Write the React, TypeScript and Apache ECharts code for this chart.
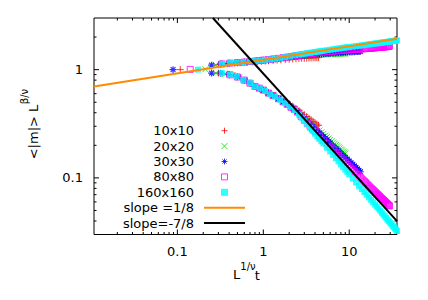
import React, { useEffect, useRef } from 'react';
import * as echarts from 'echarts';

const FONT = '"DejaVu Sans", "Liberation Sans", sans-serif';

const seriesNames = ['10x10', '20x20', '30x30', '80x80', '160x160', 'slope =1/8', 'slope=-7/8'];
const xTickLabels = ['0.1', '1', '10'];
const yTickLabels = ['0.1', '1'];
const xMinorTicks = [0.02, 0.03, 0.04, 0.05, 0.06, 0.07, 0.08, 0.09, 0.2, 0.3, 0.4, 0.5, 0.6, 0.7, 0.8, 0.9, 2, 3, 4, 5, 6, 7, 8, 9, 20, 30];
const yMinorTicks = [0.04, 0.05, 0.06, 0.07, 0.08, 0.09, 0.2, 0.3, 0.4, 0.5, 0.6, 0.7, 0.8, 0.9, 2];

// L = 10
const redFirst = [[0.108, 1.0]];
const redX = [0.3, 0.38, 0.46, 0.55, 0.65, 0.75, 0.85, 0.95, 1.05, 1.15, 1.3, 1.45, 1.6, 1.8, 2.0, 2.2, 2.4, 2.6, 2.8, 3.0, 3.2, 3.4, 3.6, 3.8, 4.0, 4.2, 4.4];
const redUp = [1.11, 1.135, 1.15, 1.16, 1.17, 1.18, 1.19, 1.195, 1.2, 1.207, 1.217, 1.226, 1.234, 1.242, 1.25, 1.256, 1.262, 1.267, 1.271, 1.275, 1.278, 1.281, 1.284, 1.286, 1.288, 1.29, 1.292];
const redLow = [0.93, 0.91, 0.875, 0.83, 0.775, 0.725, 0.69, 0.66, 0.633, 0.607, 0.577, 0.55, 0.528, 0.505, 0.483, 0.46, 0.437, 0.417, 0.399, 0.383, 0.369, 0.356, 0.344, 0.333, 0.323, 0.314, 0.306];

// L = 20
const greenFirst = [[0.212, 1.01]];
const greenX = [0.28, 0.36, 0.44, 0.52, 0.6, 0.7, 0.8, 0.9, 1.0, 1.15, 1.3, 1.5, 1.7, 1.9, 2.1, 2.3, 2.5, 2.75, 3.0, 3.25, 3.5, 3.75, 4.0, 4.25, 4.5, 4.75, 5.0, 5.25, 5.5, 5.75, 6.0, 6.25, 6.5, 6.75, 7.0, 7.25, 7.5, 7.75, 8.0, 8.25, 8.5, 8.75, 9.0];
const greenUp = [1.105, 1.135, 1.152, 1.162, 1.172, 1.185, 1.195, 1.203, 1.21, 1.225, 1.24, 1.258, 1.273, 1.287, 1.298, 1.308, 1.318, 1.328, 1.337, 1.344, 1.35, 1.355, 1.36, 1.365, 1.37, 1.374, 1.377, 1.38, 1.383, 1.386, 1.389, 1.391, 1.393, 1.395, 1.397, 1.399, 1.401, 1.402, 1.404, 1.405, 1.407, 1.408, 1.41];
const greenLow = [0.93, 0.915, 0.885, 0.845, 0.8, 0.75, 0.7, 0.67, 0.645, 0.607, 0.577, 0.54, 0.505, 0.478, 0.452, 0.43, 0.41, 0.385, 0.362, 0.343, 0.326, 0.31, 0.297, 0.285, 0.274, 0.2635, 0.255, 0.2457, 0.238, 0.231, 0.224, 0.218, 0.212, 0.2063, 0.201, 0.1962, 0.192, 0.1874, 0.183, 0.1793, 0.175, 0.1717, 0.168];

// L = 30
const blueFirst = [[0.089, 1.0]];
const blueX = [0.25, 0.32, 0.4, 0.5, 0.6, 0.7, 0.8, 0.9, 1.0, 1.15, 1.3, 1.5, 1.7, 1.9, 2.1, 2.3, 2.5, 2.75, 3.0, 3.25, 3.5, 3.75, 4.0, 4.25, 4.5, 4.75, 5.0, 5.25, 5.5, 5.75, 6.0, 6.5, 7.0, 7.5, 8.0, 8.5, 9.0, 9.5, 10, 10.5, 11, 11.5, 12, 12.5, 13, 13.5];
const blueUp = [1.1, 1.125, 1.145, 1.16, 1.175, 1.19, 1.2, 1.213, 1.222, 1.237, 1.25, 1.27, 1.286, 1.3, 1.31, 1.32, 1.33, 1.343, 1.355, 1.364, 1.372, 1.379, 1.386, 1.392, 1.397, 1.402, 1.406, 1.41, 1.414, 1.418, 1.421, 1.427, 1.432, 1.437, 1.441, 1.445, 1.449, 1.452, 1.456, 1.459, 1.462, 1.465, 1.468, 1.471, 1.473, 1.476];
const blueLow = [0.93, 0.928, 0.9, 0.858, 0.8, 0.75, 0.7, 0.672, 0.645, 0.607, 0.577, 0.54, 0.505, 0.478, 0.45, 0.428, 0.408, 0.38, 0.355, 0.334, 0.315, 0.299, 0.285, 0.272, 0.261, 0.25, 0.241, 0.232, 0.224, 0.216, 0.209, 0.197, 0.186, 0.177, 0.168, 0.161, 0.155, 0.149, 0.143, 0.138, 0.133, 0.129, 0.1245, 0.121, 0.117, 0.114];

// L = 80
const magFirst = [[0.141, 1.005], [0.33, 1.13]];
const magX = [0.41, 0.5, 0.6, 0.7, 0.8, 0.9, 1.0, 1.15, 1.3, 1.5, 1.7, 1.9, 2.1, 2.3, 2.5, 2.75, 3.0, 3.25, 3.5, 3.75, 4.0, 4.5, 5.0, 5.5, 6.0, 6.5, 7.0, 7.5, 8.0, 8.5, 9.0, 9.5,
  10, 10.5, 11, 11.5, 12, 12.5, 13, 13.5, 14, 14.5, 15, 15.5, 16, 16.5, 17, 17.5, 18, 18.5, 19, 19.5, 20, 20.5, 21, 21.5, 22, 22.5, 23, 23.5, 24, 24.5, 25, 25.5, 26, 26.5, 27, 27.5, 28, 28.5, 29, 29.4];
const magUp = [1.15, 1.162, 1.175, 1.19, 1.2, 1.213, 1.225, 1.24, 1.255, 1.272, 1.29, 1.305, 1.322, 1.336, 1.349, 1.364, 1.378, 1.39, 1.4, 1.41, 1.42, 1.436, 1.45, 1.462, 1.472, 1.481, 1.489, 1.497, 1.503, 1.509, 1.514, 1.519,
  1.524, 1.529, 1.533, 1.537, 1.541, 1.545, 1.549, 1.553, 1.556, 1.56, 1.563, 1.566, 1.569, 1.572, 1.575, 1.578, 1.581, 1.584, 1.587, 1.59, 1.594, 1.597, 1.6, 1.603, 1.605, 1.608, 1.61, 1.613, 1.615, 1.618, 1.62, 1.623, 1.626, 1.629, 1.632, 1.635, 1.638, 1.641, 1.644, 1.647];
const magLow = [0.895, 0.855, 0.8, 0.75, 0.7, 0.675, 0.648, 0.607, 0.577, 0.54, 0.505, 0.478, 0.449, 0.429, 0.405, 0.37, 0.342, 0.32, 0.3, 0.284, 0.269, 0.243, 0.223, 0.207, 0.193, 0.181, 0.17, 0.161, 0.153, 0.146, 0.139, 0.133,
  0.128, 0.123, 0.1185, 0.1147, 0.111, 0.1075, 0.104, 0.101, 0.098, 0.0955, 0.093, 0.0905, 0.088, 0.086, 0.084, 0.082, 0.08, 0.0785, 0.077, 0.0755, 0.074, 0.0726, 0.0712, 0.07, 0.0687, 0.0675, 0.0663, 0.0652, 0.0642, 0.0632, 0.0622, 0.0613, 0.0604, 0.0595, 0.0586, 0.0578, 0.057, 0.0562, 0.0555, 0.0551];

// L = 160
const cyanFirst = [[0.174, 1.0]];
const cyanX = [0.33, 0.41, 0.49, 0.585, 0.7, 0.8, 0.92, 1.05, 1.2, 1.37, 1.56, 1.79, 2.05, 2.34, 2.6, 2.8, 3.0, 3.25, 3.5, 3.75, 4.0, 4.25, 4.5, 4.75, 5.0, 5.5, 6.0, 6.5, 7.0, 7.5, 8.0, 8.5, 9.0, 9.5, 10, 11, 12, 13, 14, 15, 16, 17, 18, 19, 20, 21, 22, 23, 24, 25, 26, 27, 28, 29, 30, 31, 32, 33, 34, 35, 36];
const cyanUp = [1.13, 1.15, 1.16, 1.173, 1.19, 1.2, 1.215, 1.23, 1.245, 1.262, 1.28, 1.305, 1.33, 1.36, 1.378, 1.391, 1.403, 1.417, 1.43, 1.442, 1.454, 1.465, 1.476, 1.486, 1.495, 1.511, 1.527, 1.542, 1.556, 1.568, 1.58, 1.591, 1.602, 1.612, 1.619, 1.635, 1.65, 1.663, 1.677, 1.689, 1.701, 1.712, 1.723, 1.733, 1.742, 1.751, 1.759, 1.769, 1.777, 1.786, 1.793, 1.801, 1.807, 1.815, 1.821, 1.829, 1.836, 1.841, 1.848, 1.855, 1.861];
const cyanLow = [0.929, 0.895, 0.863, 0.805, 0.75, 0.698, 0.672, 0.635, 0.593, 0.562, 0.526, 0.49, 0.455, 0.424, 0.385, 0.359, 0.335, 0.312, 0.29, 0.272, 0.256, 0.242, 0.229, 0.218, 0.2085, 0.19, 0.1755, 0.163, 0.1516, 0.142, 0.1334, 0.1258, 0.1194, 0.1136, 0.1077, 0.0988, 0.091, 0.0845, 0.079, 0.0741, 0.0699, 0.0661, 0.0627, 0.0596, 0.0567, 0.0542, 0.0519, 0.0497, 0.0477, 0.0458, 0.0442, 0.0426, 0.0411, 0.0398, 0.0386, 0.0374, 0.0362, 0.0352, 0.0342, 0.0333, 0.0323];

// reference lines (end points)
const orangeLine = [[0.0107, 0.7], [36, 1.93]];
const blackLine = [[0.259, 3.0], [36, 0.0399]];

const colors = ['#ff0000', '#00e000', '#0000ff', '#ff00ff', '#00ffff', '#ff8c00', '#000000'];

function build(first: number[][], xs: number[], up: number[], low: number[]) {
  return [
    ...first,
    ...xs.map((x, i) => [x, up[i]]),
    ...xs.map((x, i) => [x, low[i]]),
  ];
}

const plusPath = 'path://M0,5L10,5M5,0L5,10';
const crossPath = 'path://M0,0L10,10M10,0L0,10';
const starPath = 'path://M0,5L10,5M5,0L5,10M1.5,1.5L8.5,8.5M8.5,1.5L1.5,8.5';
const squarePath = 'path://M0,0L10,0L10,10L0,10Z';

function logLabel(v: number, labels: string[]) {
  const l = Math.log10(v);
  const r = Math.round(l);
  if (Math.abs(l - r) > 1e-6) return '';
  const s = labels.find((t) => Math.abs(Math.log10(parseFloat(t)) - r) < 1e-6);
  return s || '';
}

export default function App() {
  const ref = useRef<HTMLDivElement>(null);
  useEffect(() => {
    document.body.style.margin = '0';
    const chart = echarts.init(ref.current!, undefined, { renderer: 'svg' });

    const xMajor = xTickLabels.map((t) => parseFloat(t));
    const yMajor = yTickLabels.map((t) => parseFloat(t));
    const xTickData = [...xMajor.map((v) => [v, 1, 5]), ...xMinorTicks.map((v) => [v, 1, 2.5])];
    const yTickData = [...yMajor.map((v) => [1, v, 5]), ...yMinorTicks.map((v) => [1, v, 2.5])];

    const axisLabel = { color: '#000', fontFamily: FONT, fontSize: 13 };

    const legendData = seriesNames.map((n, i) =>
      i >= 5 ? { name: n, itemStyle: { opacity: 0, borderWidth: 0 } } : { name: n }
    );

    const option: any = {
      animation: false,
      textStyle: { fontFamily: FONT },
      grid: {
        left: 94, right: 31, top: 18, bottom: 65.5,
        show: true, borderColor: '#000', borderWidth: 1, backgroundColor: 'transparent',
        outerBoundsMode: 'none',
      },
      xAxis: {
        type: 'log', logBase: 10, min: 0.0107, max: 36,
        axisLine: { show: false }, axisTick: { show: false }, splitLine: { show: false },
        axisLabel: { ...axisLabel, margin: 10, formatter: (v: number) => logLabel(v, xTickLabels) },
      },
      yAxis: {
        type: 'log', logBase: 10, min: 0.03, max: 3,
        axisLine: { show: false }, axisTick: { show: false }, splitLine: { show: false },
        axisLabel: { ...axisLabel, margin: 11, formatter: (v: number) => logLabel(v, yTickLabels) },
      },
      legend: {
        orient: 'vertical', right: 182, top: 123, padding: 0,
        itemWidth: 41, itemHeight: 6, itemGap: 0, align: 'right', selectedMode: false,
        data: legendData,
        itemStyle: { borderWidth: 1 },
        textStyle: { fontFamily: FONT, fontSize: 13, color: '#000', lineHeight: 15.4, padding: [0, 5, 0, 0] },
      },
      graphic: [
        { type: 'text', x: 33, y: 132, rotation: Math.PI / 2, style: { text: '<|m|> L', fontFamily: FONT, fontSize: 13, fill: '#000', align: 'center', verticalAlign: 'middle' } },
        { type: 'text', x: 24, y: 96.5, rotation: Math.PI / 2, style: { text: 'β/ν', fontFamily: FONT, fontSize: 10, fill: '#000', align: 'center', verticalAlign: 'middle' } },
        { type: 'text', x: 236.5, y: 274.5, style: { text: 'L', fontFamily: FONT, fontSize: 13, fill: '#000', align: 'center', verticalAlign: 'middle' } },
        { type: 'text', x: 248, y: 266.5, style: { text: '1/ν', fontFamily: FONT, fontSize: 10, fill: '#000', align: 'center', verticalAlign: 'middle' } },
        { type: 'text', x: 257.3, y: 275.5, style: { text: 't', fontFamily: FONT, fontSize: 13, fill: '#000', align: 'center', verticalAlign: 'middle' } },
      ],
      series: [
        {
          type: 'custom', silent: true, data: xTickData, clip: false,
          renderItem: (params: any, api: any) => {
            const cs = params.coordSys;
            const px = api.coord([api.value(0), 1])[0];
            const len = api.value(2);
            const top = cs.y, bot = cs.y + cs.height;
            return {
              type: 'group', children: [
                { type: 'line', shape: { x1: px, y1: bot, x2: px, y2: bot - len }, style: { stroke: '#000', lineWidth: 1 } },
                { type: 'line', shape: { x1: px, y1: top, x2: px, y2: top + len }, style: { stroke: '#000', lineWidth: 1 } },
              ],
            };
          },
        },
        {
          type: 'custom', silent: true, data: yTickData, clip: false,
          renderItem: (params: any, api: any) => {
            const cs = params.coordSys;
            const py = api.coord([1, api.value(1)])[1];
            const len = api.value(2);
            const l = cs.x, r = cs.x + cs.width;
            return {
              type: 'group', children: [
                { type: 'line', shape: { x1: l, y1: py, x2: l + len, y2: py }, style: { stroke: '#000', lineWidth: 1 } },
                { type: 'line', shape: { x1: r, y1: py, x2: r - len, y2: py }, style: { stroke: '#000', lineWidth: 1 } },
              ],
            };
          },
        },
        {
          type: 'scatter', name: seriesNames[0], symbol: plusPath, symbolSize: 7,
          itemStyle: { color: 'transparent', borderColor: colors[0], borderWidth: 1 },
          data: build(redFirst, redX, redUp, redLow),
        },
        {
          type: 'scatter', name: seriesNames[1], symbol: crossPath, symbolSize: 6,
          itemStyle: { color: 'transparent', borderColor: colors[1], borderWidth: 1 },
          data: build(greenFirst, greenX, greenUp, greenLow),
        },
        {
          type: 'scatter', name: seriesNames[2], symbol: starPath, symbolSize: 7,
          itemStyle: { color: 'transparent', borderColor: colors[2], borderWidth: 1.2 },
          data: build(blueFirst, blueX, blueUp, blueLow),
        },
        {
          type: 'scatter', name: seriesNames[3], symbol: squarePath, symbolSize: 6,
          itemStyle: { color: 'transparent', borderColor: colors[3], borderWidth: 1 },
          data: build(magFirst, magX, magUp, magLow),
        },
        {
          type: 'scatter', name: seriesNames[4], symbol: squarePath, symbolSize: 6,
          itemStyle: { color: colors[4], borderColor: colors[4], borderWidth: 0 },
          data: build(cyanFirst, cyanX, cyanUp, cyanLow),
        },
        {
          type: 'line', name: seriesNames[5], data: orangeLine, symbol: 'none', showSymbol: false,
          lineStyle: { color: colors[5], width: 2 }, itemStyle: { color: 'transparent' },
        },
        {
          type: 'line', name: seriesNames[6], data: blackLine, symbol: 'none', showSymbol: false,
          lineStyle: { color: colors[6], width: 2 }, itemStyle: { color: 'transparent' },
        },
      ],
    };
    chart.setOption(option);
    return () => chart.dispose();
  }, []);
  return <div ref={ref} style={{ width: 428, height: 300 }} />;
}
